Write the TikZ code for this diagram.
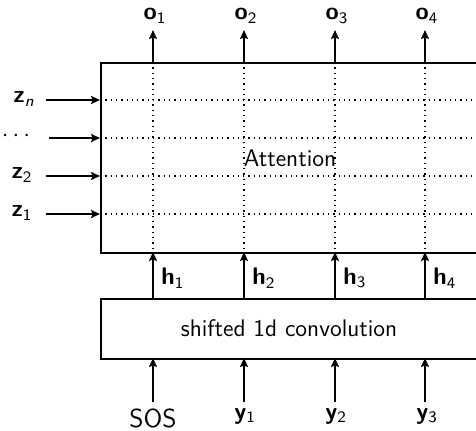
\documentclass[tikz,border=0pt]{standalone}
\usetikzlibrary{arrows.meta}
\renewcommand{\familydefault}{\sfdefault}
\begin{document}
\begin{tikzpicture}[x=0.5pt,y=-0.5pt,
  every node/.style={font=\fontsize{12}{14}\selectfont},
  boxst/.style={draw, line width=0.9pt, inner sep=0pt},
  arr/.style={-{Stealth[length=4.5pt,width=4pt,inset=0.8pt]}, line width=0.8pt},
  dotst/.style={dotted, line width=0.65pt},
  lbl/.style={inner sep=1pt}]
\clip (0,0) rectangle (476,430);
% boxes
\node[boxst, minimum width=384*0.5pt, minimum height=190*0.5pt, anchor=north west] (att) at (100,62) {};
\node[boxst, minimum width=384*0.5pt, minimum height=60*0.5pt, anchor=north west] (conv) at (100,298) {};
\node at (290,158) {Attention};
\node at (289,328) {shifted 1d convolution};
% columns
\foreach \i/\x in {1/153,2/244,3/335,4/425}{
  \coordinate (top\i) at (\x,62);
  \coordinate (bot\i) at (\x,252);
  \coordinate (ctop\i) at (\x,298);
  \coordinate (cbot\i) at (\x,358);
  \coordinate (oend\i) at (\x,30);
  \coordinate (ystart\i) at (\x,402);
  \draw[dotst] (top\i) -- (bot\i);
  \draw[arr] (top\i) -- (oend\i);
  \draw[arr] (ctop\i) -- (bot\i);
  \draw[arr] (ystart\i) -- (cbot\i);
  \node[lbl] (o\i) at (\x+2,16) {\textbf{o}\textsubscript{\i}};
  \node[lbl, anchor=west] (h\i) at (\x+6,278) {\textbf{h}\textsubscript{\i}};
}
\node[lbl] (sos) at (153,418) {\fontsize{13}{14}\selectfont SOS};
\node[lbl] (y1) at (245,416) {\textbf{y}\textsubscript{1}};
\node[lbl] (y2) at (336,416) {\textbf{y}\textsubscript{2}};
\node[lbl] (y3) at (427,416) {\textbf{y}\textsubscript{3}};
% rows
\foreach \j/\y/\s in {n/100/46,d/138/49,2/176/46,1/214/46}{
  \coordinate (rl\j) at (100,\y);
  \coordinate (rr\j) at (484,\y);
  \coordinate (rs\j) at (\s,\y);
  \draw[dotst] (rl\j) -- (rr\j);
  \draw[arr] (rs\j) -- (rl\j);
}
\node[lbl] (zn) at (24,99) {\textbf{z}\textsubscript{\itshape n}};
\node[lbl] (zd) at (16,136) {$\cdots$};
\node[lbl] (z2) at (22,175) {\textbf{z}\textsubscript{2}};
\node[lbl] (z1) at (22,213) {\textbf{z}\textsubscript{1}};
\end{tikzpicture}
\end{document}
